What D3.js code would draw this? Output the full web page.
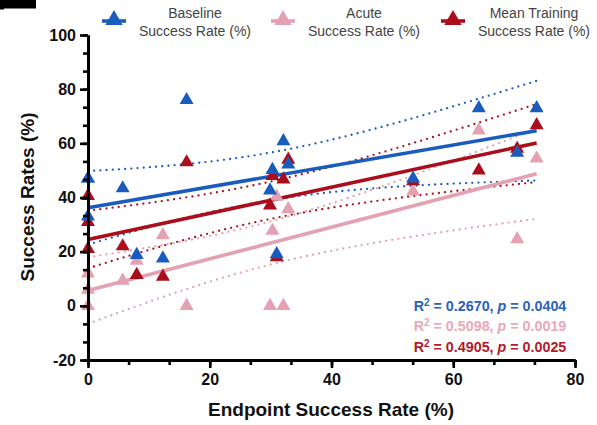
<!DOCTYPE html>
<html>
<head>
<meta charset="utf-8">
<script src="https://cdn.jsdelivr.net/npm/d3@7"></script>
<style>
  body { margin: 0; background: #fff; }
  text { font-family: Arial, "Liberation Sans", Helvetica, sans-serif; }
</style>
</head>
<body>
<svg id="chart" width="597" height="425"></svg>
<script>
// Endpoint success rate per participant (x) and the three success-rate measures (y)
const endpoint = [0, 0, 0, 5.7, 8, 12.3, 16.2, 29.9, 30.3, 31, 32.1, 32.9, 53.4, 64.2, 70.5, 73.7];
const baseline = [47, 33, 47, 43.4, 18.8, 17.5, 76, 42.6, 50.2, 19.1, 60.8, 52.2, 47, 73, 56.5, 73];
const acute    = [12, 6, 0, 9.3, 16.7, 26.1, 0, 0, 27.7, 40.3, 0, 35.7, 42.2, 64.8, 24.6, 54.4];
const training = [40.6, 31, 21, 22, 11.4, 10.8, 53, 37.1, 48, 18, 46.7, 54, 46, 50, 58, 66.7];

const seriesNames = ["Baseline", "Acute", "Mean Training"];
const legendLine2 = "Success Rate (%)";
const statR2 = ["0.2670", "0.5098", "0.4905"];
const statP  = ["0.0404", "0.0019", "0.0025"];

const xTicks = [0, 20, 40, 60, 80];
const yTicks = [-20, 0, 20, 40, 60, 80, 100];

const colors = { Baseline: "#1a5cbd", Acute: "#e3a1b2", "Mean Training": "#ab0e1b" };
const statColors = ["#2a62ba", "#e8a9b9", "#b01a2a"];

const svg = d3.select("#chart");

const x = d3.scaleLinear().domain([0, 80]).range([88, 575]);
const y = d3.scaleLinear().domain([-20, 100]).range([360, 35]);

// Least-squares fit with 95% confidence band of the regression line
function linearFit(xs, ys) {
  const n = xs.length;
  const mx = d3.mean(xs), my = d3.mean(ys);
  let sxx = 0, sxy = 0;
  xs.forEach((v, i) => { sxx += (v - mx) ** 2; sxy += (v - mx) * (ys[i] - my); });
  const slope = sxy / sxx, icpt = my - slope * mx;
  let ssr = 0;
  xs.forEach((v, i) => { ssr += (ys[i] - (icpt + slope * v)) ** 2; });
  const s = Math.sqrt(ssr / (n - 2));
  const t = 2.1448; // t(0.975, df = 14)
  const pred = v => icpt + slope * v;
  const half = v => t * s * Math.sqrt(1 / n + (v - mx) ** 2 / sxx);
  return { pred, half };
}

const series = seriesNames.map((name, i) => ({ name, ys: [baseline, acute, training][i] }));

const xMin = d3.min(endpoint), xMax = d3.max(endpoint);
const xs = d3.range(0, 61).map(i => xMin + (xMax - xMin) * i / 60);
const line = d3.line().x(d => x(d[0])).y(d => y(d[1]));

const fitLayer = svg.append("g");
series.forEach(sr => {
  const f = linearFit(endpoint, sr.ys);
  const c = colors[sr.name];
  [-1, 1].forEach(sign => {
    fitLayer.append("path")
      .attr("d", line(xs.map(v => [v, f.pred(v) + sign * f.half(v)])))
      .attr("fill", "none").attr("stroke", c)
      .attr("stroke-width", 2.3).attr("stroke-linecap", "round")
      .attr("stroke-dasharray", "0 6.2");
  });
});
series.forEach(sr => {
  const f = linearFit(endpoint, sr.ys);
  fitLayer.append("path")
    .attr("d", line([[xMin, f.pred(xMin)], [xMax, f.pred(xMax)]]))
    .attr("fill", "none").attr("stroke", colors[sr.name])
    .attr("stroke-width", 3.6);
});

// Markers: acute underneath, then mean training, baseline on top
const tri = d3.symbol().type(d3.symbolTriangle).size(85);
["Acute", "Mean Training", "Baseline"].forEach(name => {
  const sr = series.find(s => s.name === name);
  svg.append("g").selectAll("path")
    .data(endpoint.map((v, i) => [v, sr.ys[i]]))
    .join("path")
    .attr("d", tri)
    .attr("transform", d => `translate(${x(d[0])},${y(d[1])})`)
    .attr("fill", colors[name]);
});

// Axes
const minorX = d3.range(0, 80.01, 20 / 3);
const minorY = d3.range(-20, 100.01, 20 / 3);

const axisStyle = g => {
  g.select(".domain").attr("stroke", "#000").attr("stroke-width", 3);
  g.selectAll(".tick line").attr("stroke", "#000").attr("stroke-width", 2.6);
  g.selectAll(".tick text").attr("font-size", 16).attr("font-weight", "bold").attr("fill", "#111");
};

svg.append("g").attr("transform", "translate(0,360)")
  .call(d3.axisBottom(x).tickValues(minorX).tickSize(5).tickFormat("").tickSizeOuter(0))
  .call(axisStyle);
svg.append("g").attr("transform", "translate(0,360)")
  .call(d3.axisBottom(x).tickValues(xTicks).tickSize(8).tickPadding(6).tickSizeOuter(0))
  .call(axisStyle);

svg.append("g").attr("transform", "translate(88,0)")
  .call(d3.axisLeft(y).tickValues(minorY).tickSize(5).tickFormat("").tickSizeOuter(0))
  .call(axisStyle);
svg.append("g").attr("transform", "translate(88,0)")
  .call(d3.axisLeft(y).tickValues(yTicks).tickSize(8).tickPadding(4).tickSizeOuter(0)
    .tickFormat(d => d < 0 ? "-" + Math.abs(d) : d))
  .call(axisStyle);

// Axis titles
svg.append("text").attr("x", 331).attr("y", 416).attr("text-anchor", "middle")
  .attr("font-size", 19).attr("font-weight", "bold").attr("fill", "#111")
  .text("Endpoint Success Rate (%)");
svg.append("text").attr("transform", "translate(34,197) rotate(-90)").attr("text-anchor", "middle")
  .attr("font-size", 19).attr("font-weight", "bold").attr("fill", "#111")
  .text("Success Rates (%)");

// Legend: line + marker, two-line label
const legendX = [114, 283, 453];
const legendTextX = [195, 364, 534];
const bigTri = d3.symbol().type(d3.symbolTriangle).size(130);
series.forEach((sr, i) => {
  const g = svg.append("g");
  const c = colors[sr.name];
  g.append("line").attr("x1", legendX[i] - 12).attr("x2", legendX[i] + 12)
    .attr("y1", 21).attr("y2", 21).attr("stroke", c).attr("stroke-width", 3.6);
  g.append("path").attr("d", bigTri).attr("transform", `translate(${legendX[i]},20)`).attr("fill", c);
  const t = g.append("text").attr("text-anchor", "middle").attr("font-size", 14).attr("fill", "#444");
  t.append("tspan").attr("x", legendTextX[i]).attr("y", 18).text(sr.name);
  t.append("tspan").attr("x", legendTextX[i]).attr("y", 36).text(legendLine2);
});

// Fit statistics
const statY = [311, 331, 352];
statR2.forEach((r, i) => {
  const t = svg.append("text").attr("x", 490).attr("y", statY[i]).attr("text-anchor", "middle")
    .attr("font-size", 14.3).attr("font-weight", "bold").attr("fill", statColors[i]);
  t.append("tspan").text("R");
  t.append("tspan").attr("dy", -5).attr("font-size", 10).text("2");
  t.append("tspan").attr("dy", 5).text(" = " + r + ", ");
  t.append("tspan").attr("font-style", "italic").text("p");
  t.append("tspan").text(" = " + statP[i]);
});

// Bottom stroke of the cropped panel letter in the top-left corner
const corner = d3.path();
corner.moveTo(0, 0); corner.lineTo(36, 0); corner.lineTo(36, 8.5);
corner.lineTo(4, 8.5); corner.lineTo(4, 9.5); corner.lineTo(0, 9.5); corner.closePath();
svg.append("path").attr("d", corner.toString()).attr("fill", "#000");
</script>
</body>
</html>
